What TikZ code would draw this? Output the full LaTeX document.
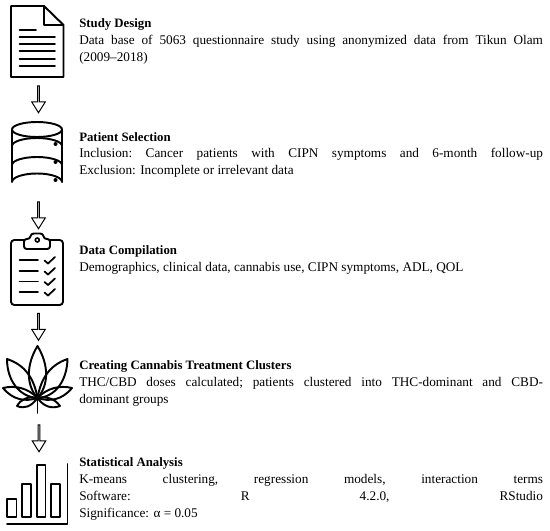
\documentclass[tikz,border=0pt]{standalone}
\usepackage{fontspec}
\setmainfont{Liberation Serif}
\usetikzlibrary{shapes.arrows}
\tikzset{
  ink/.style={draw=black,line width=1.45pt,line join=round,fill=none},
  thin ink/.style={draw=black,line width=1.3pt,line cap=round},
  flow/.style={draw=black,line width=0.75pt,fill=white,single arrow,rotate=-90,inner sep=0pt,
     single arrow head extend=2.3pt,single arrow tip angle=64,
     minimum width=10.1pt,minimum height=20.25pt,anchor=center},
  title/.style={anchor=base west,inner sep=0pt,font=\fontsize{9.6}{11}\selectfont\bfseries},
  body/.style={anchor=base west,inner sep=0pt,font=\fontsize{9.93}{11}\selectfont},
  dot/.style={fill=black,draw=none}
}
\newcommand{\jl}[1]{\hbox to 347.8pt{#1}}
\begin{document}
\begin{tikzpicture}[x=0.75pt,y=-0.75pt]
\useasboundingbox (0,0) rectangle (550,531);
% icon 1: document
\draw[ink] (11,6) -- (44,6) -- (63.5,25) -- (63.5,77) -- (11,77) -- cycle;
\draw[ink] (44,6) -- (44,25) -- (63.5,25);
\foreach \yy/\xe in {30/36,37/55,44/55,51/55,59/55,66/55} \draw[thin ink] (19.5,\yy) -- (\xe,\yy);
% icon 2: database
\draw[ink] (12,129.5) arc[x radius=25,y radius=7.5,start angle=180,end angle=-180];
\draw[ink] (12,129.5) -- (12,182) arc[x radius=25,y radius=8.5,start angle=180,end angle=360] -- (62,129.5);
\draw[ink] (12,146) arc[x radius=25,y radius=8,start angle=180,end angle=360];
\draw[ink] (12,165) arc[x radius=25,y radius=8,start angle=180,end angle=360];
\foreach \yy in {144,162,180} \fill[dot] (55.5,\yy) circle (2);
% icon 3: clipboard
\draw[ink,rounded corners=2.5pt] (24,240) -- (11,240) -- (11,305) -- (63,305) -- (63,240) -- (50,240);
\draw[ink,rounded corners=2pt] (24,249) -- (24,239) -- (30,239) -- (31,233.5) -- (43,233.5) -- (44,239) -- (50,239) -- (50,249) -- cycle;
\draw[line width=1.2pt] (37.3,240) circle (2);
\foreach \yy in {260,271,281.5,292} {
  \draw[thin ink] (19.5,\yy) -- (38,\yy);
  \draw[thin ink] (44.5,\yy+0.5) -- (48,\yy+3.5) -- (55,\yy-3);
}
% icon 4: cannabis leaf
\draw[ink,line cap=round] (37.5,398) -- (37.5,413);
\draw[ink] (37.5,398) .. controls (26,385) and (26,365) .. (37.5,346) .. controls (49,365) and (49,385) .. (37.5,398) -- cycle;
\draw[ink] (37.5,398) .. controls (19,397) and (7,380) .. (7,359) .. controls (25,365) and (34,378) .. (37.5,398) -- cycle;
\draw[ink] (37.5,398) .. controls (56,397) and (67,380) .. (67.5,359) .. controls (50,365) and (41,378) .. (37.5,398) -- cycle;
\draw[ink] (37.5,398) .. controls (25,402) and (13,400) .. (3,388) .. controls (15,385) and (28,388) .. (37.5,398) -- cycle;
\draw[ink] (37.5,398) .. controls (50,402) and (62,400) .. (72,388) .. controls (60,385) and (47,388) .. (37.5,398) -- cycle;
\draw[ink] (37.5,398) .. controls (31,407) and (24,409) .. (17,406) .. controls (21,399) and (28,396) .. (37.5,398) -- cycle;
\draw[ink] (37.5,398) .. controls (44,407) and (52,409) .. (60,406) .. controls (55,399) and (47,396) .. (37.5,398) -- cycle;
% icon 5: bar chart
\foreach \xa/\xb/\yy in {7/16.5/499,22/31/484,37/45.5/465,51/60/484}
  \draw[ink] (\xa,\yy) rectangle (\xb,517);
\draw[ink,line cap=round] (7,524) -- (67.5,524) -- (67.5,464);
% flow arrows
\node[flow] (a1) at (38.5,98.5) {};
\node[flow] (a2) at (38.5,214.5) {};
\node[flow] (a3) at (38.5,326) {};
\node[flow] (a4) at (39,437.5) {};
% text
\node[title] (t1) at (79,27.5) {Study Design};
\node[body] (b1a) at (79,44.5) {\jl{Data\hfill base\hfill of\hfill 5063\hfill questionnaire\hfill study\hfill using\hfill anonymized\hfill data\hfill from\hfill Tikun\hfill Olam}};
\node[body] (b1b) at (79,61.5) {(2009–2018)};
\node[title] (t2) at (79,141.5) {Patient Selection};
\node[body] (b2a) at (79,158) {\jl{Inclusion:\hfill Cancer\hfill patients\hfill with\hfill CIPN\hfill symptoms\hfill and\hfill 6-month\hfill follow-up}};
\node[body] (b2b) at (79,175) {Exclusion: Incomplete or irrelevant data};
\node[title] (t3) at (79,255) {Data Compilation};
\node[body] (b3a) at (79,272) {Demographics, clinical data, cannabis use, CIPN symptoms, ADL, QOL};
\node[title] (t4) at (79,369) {Creating Cannabis Treatment Clusters};
\node[body] (b4a) at (79,386) {\jl{THC/CBD\hfill doses\hfill calculated;\hfill patients\hfill clustered\hfill into\hfill THC-dominant\hfill and\hfill CBD-}};
\node[body] (b4b) at (79,403) {dominant groups};
\node[title] (t5) at (79,466.5) {Statistical Analysis};
\node[body] (b5a) at (79,483) {\jl{K-means\hfill clustering,\hfill regression\hfill models,\hfill interaction\hfill terms}};
\node[body] (b5b) at (79,500) {\jl{Software:\hfill R\hfill 4.2.0,\hfill RStudio}};
\node[body] (b5c) at (79,517) {Significance: α = 0.05};
\end{tikzpicture}
\end{document}
